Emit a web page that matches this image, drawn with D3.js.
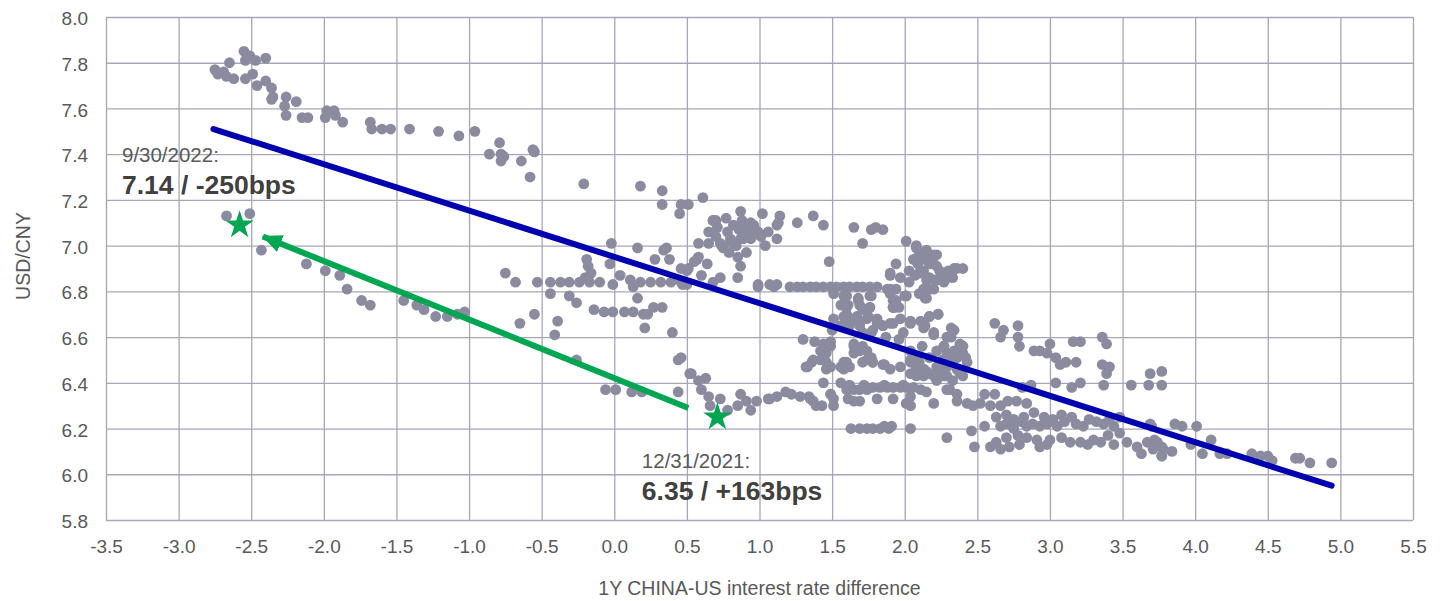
<!DOCTYPE html>
<html>
<head>
<meta charset="utf-8">
<script src="https://cdn.jsdelivr.net/npm/d3@7"></script>
<style>
  body { margin: 0; background: #fff; }
  #plot { width: 1442px; height: 601px; }
  .axis text { font-family: Arial, "Liberation Sans", sans-serif; font-size: 19px; fill: #595959; }
  .grid line { stroke: #a6a6ba; stroke-width: 1.3; }
  .grid .domain { display: none; }
</style>
</head>
<body>
<div id="plot"></div>
<script>
// ---- data ----
// [1Y China-US rate difference, USD/CNY]
var upperStrand = [
  [-2.75,7.77],[-2.73,7.75],[-2.69,7.76],[-2.65,7.80],[-2.67,7.74],[-2.62,7.73],[-2.55,7.85],[-2.54,7.81],
  [-2.51,7.83],[-2.47,7.81],[-2.40,7.82],[-2.54,7.73],[-2.49,7.75],[-2.46,7.70],[-2.40,7.72],[-2.36,7.69],
  [-2.35,7.65],[-2.36,7.64],[-2.26,7.65],[-2.19,7.63],[-2.27,7.61],[-2.26,7.57],[-2.15,7.56],[-2.11,7.56],
  [-1.99,7.56],[-1.98,7.59],[-1.93,7.59],[-1.92,7.57],[-1.87,7.54],[-1.68,7.54],[-1.67,7.51],[-1.60,7.51],
  [-1.54,7.51],[-1.41,7.51],[-1.21,7.50],[-1.07,7.48],[-0.96,7.50],[-0.79,7.45],[-0.86,7.40],[-0.78,7.40],
  [-0.76,7.39],[-0.78,7.37],[-0.64,7.37],[-0.56,7.42],[-0.55,7.41],[-0.58,7.30],[-0.21,7.27],[0.18,7.26],
  [0.33,7.24],[0.33,7.18],[0.45,7.14],[0.46,7.18],[0.51,7.18],[0.61,7.21],[0.68,7.11],[0.65,7.06]
];
var lowerStrand = [
  [-2.67,7.13],[-2.51,7.14],[-2.43,6.98],[-2.12,6.92],[-1.99,6.89],[-1.89,6.87],[-1.84,6.81],[-1.74,6.76],
  [-1.68,6.74],[-1.45,6.76],[-1.36,6.74],[-1.31,6.72],[-1.23,6.69],[-1.15,6.69],[-1.08,6.70],[-1.03,6.71]
];
var middleCluster = [
  [-0.02,7.01],[0.16,6.99],[0.36,6.99],[-0.75,6.88],[-0.68,6.84],[-0.53,6.84],[-0.44,6.84],[-0.37,6.84],
  [-0.31,6.84],[-0.24,6.84],[-0.17,6.84],[-0.10,6.84],[-0.19,6.94],[-0.18,6.91],[-0.16,6.88],[-0.20,6.86],
  [-0.03,6.92],[0.04,6.87],[-0.01,6.83],[0.11,6.85],[0.18,6.84],[0.25,6.84],[0.32,6.84],[0.39,6.84],
  [0.46,6.84],[0.50,6.83],[0.13,6.82],[0.28,6.94],[0.38,6.94],[0.34,6.98],[0.46,6.90],[0.51,6.90],
  [0.57,6.94],[0.64,6.92],[0.60,6.87],[0.68,6.84],[0.73,6.86],[0.85,6.86],[0.99,6.83],[1.07,6.83],
  [1.12,6.83],[-0.44,6.79],[-0.31,6.78],[-0.26,6.75],[0.16,6.77],[-0.14,6.72],[-0.07,6.71],[-0.01,6.71],
  [0.07,6.71],[0.13,6.71],[0.20,6.70],[0.27,6.73],[0.33,6.73],[0.23,6.70],[0.21,6.64],[0.40,6.62],
  [-0.65,6.66],[-0.55,6.70],[-0.39,6.67],[-0.41,6.61]
];
var upperCluster = [
  [0.68,7.11],[0.71,7.08],[0.77,7.12],[0.82,7.09],[0.87,7.15],[0.88,7.11],[0.91,7.07],[0.96,7.09],
  [1.02,7.14],[1.06,7.06],[1.12,7.09],[0.80,7.03],[0.74,7.00],[0.84,7.00],[0.89,7.03],[0.94,7.03],
  [1.04,7.00],[0.58,7.01],[0.65,7.01],[0.99,7.06],[0.70,7.11],[0.94,7.10],[0.97,7.07],[1.14,7.13],
  [1.13,7.10],[1.12,7.03],[1.26,7.10],[1.37,7.13],[1.44,7.09],[1.65,7.08],[1.77,7.07],[1.80,7.08],
  [1.85,7.07],[1.71,7.01],[2.01,7.02],[0.73,7.01],[0.80,7.02],[0.87,7.03],[0.75,6.99],[0.83,7.00],
  [0.91,6.97],[0.85,6.95],[0.87,6.91],[0.55,6.93],[0.58,6.95],[0.50,6.89],[0.47,6.83],[1.48,6.93],
  [0.78,7.06],[0.86,7.07],[0.93,7.05],[1.01,7.04],[0.79,6.97],[0.70,7.04]
];
var flatRow = [
  [0.99,6.82],[1.10,6.82],[1.21,6.82],[1.26,6.82],[1.30,6.82],[1.35,6.82],[1.39,6.82],[1.44,6.82],
  [1.49,6.82],[1.53,6.82],[1.58,6.82],[1.62,6.82],[1.67,6.82],[1.71,6.82],[1.76,6.82],[1.81,6.82]
];
var centreCluster = [
  [1.51,6.79],[1.60,6.78],[1.68,6.77],[1.77,6.78],[1.56,6.74],[1.60,6.73],[1.69,6.74],[1.76,6.73],
  [1.75,6.69],[1.51,6.68],[1.58,6.69],[1.65,6.68],[1.56,6.65],[1.62,6.65],[1.69,6.66],[1.50,6.63],
  [1.81,6.66],[1.77,6.62],[1.85,6.65],[1.92,6.66],[1.90,6.81],[1.92,6.76],[2.01,6.78],[1.92,6.73],
  [1.99,6.62],[2.04,6.66],[2.17,6.69],[2.23,6.70],[2.14,6.65],[2.20,6.61],[2.32,6.64],[2.32,6.60],
  [1.71,6.62],
  [1.58,6.78],[1.61,6.74],[1.68,6.76],[1.76,6.78],[1.76,6.73],[1.71,6.72],[1.90,6.79],[1.94,6.76],
  [1.92,6.73],[2.01,6.78],[1.60,6.70],[1.67,6.69],[1.74,6.68],[1.81,6.68],[1.62,6.66],[1.69,6.65],
  [1.78,6.63],[1.85,6.65],[1.90,6.66],[1.97,6.68],[2.04,6.67],[2.11,6.67],[2.17,6.69],[2.23,6.70],
  [2.13,6.64],[2.20,6.62],[2.34,6.63],[2.29,6.60],
  [2.08,7.00],[2.15,6.98],[2.22,6.96],[2.10,6.96],[2.14,6.94],[2.20,6.92],[2.09,6.92],[2.03,6.89],
  [2.07,6.87],[2.13,6.89],[2.17,6.86],[2.24,6.89],[2.30,6.89],[2.34,6.90],[2.40,6.90],[2.29,6.86],
  [2.23,6.85],[2.15,6.82],[2.20,6.81],[2.15,6.77],[2.10,6.79],[1.94,6.92],[1.90,6.87],[1.97,6.86],
  [2.03,6.84],[1.96,6.73],[2.00,6.78],[2.14,6.97],[2.20,6.96],[2.06,6.94],[2.17,6.92],[2.22,6.91],
  [2.29,6.87],[2.36,6.90],[2.10,6.88],[1.90,6.88],[2.15,6.85],[2.21,6.85],[2.27,6.84],[2.13,6.81],
  [2.17,6.81],[2.14,6.77],[1.88,6.81],[1.94,6.81],[1.93,6.73],[2.08,6.99],[2.13,6.97],[2.33,6.86]
];
var lowerCluster = [
  [1.30,6.59],[1.38,6.58],[1.44,6.57],[1.49,6.56],[1.46,6.53],[1.42,6.50],[1.46,6.49],[1.36,6.49],
  [1.32,6.47],[1.46,6.46],[1.56,6.47],[1.60,6.49],[1.58,6.46],[1.65,6.57],[1.71,6.56],[1.65,6.53],
  [1.74,6.54],[1.77,6.51],[1.71,6.49],[1.78,6.49],[1.86,6.48],[1.87,6.60],[1.96,6.59],[2.04,6.54],
  [2.08,6.51],[2.04,6.49],[2.10,6.49],[2.08,6.46],[2.15,6.45],[2.20,6.43],[2.24,6.46],[2.29,6.47],
  [2.33,6.50],[2.38,6.56],[2.40,6.53],[2.43,6.49],[2.36,6.46],[2.27,6.43],[2.22,6.41],[2.33,6.41],
  [2.31,6.37],[2.36,6.35],[2.12,6.56],[2.27,6.56],[2.29,6.53],[2.34,6.54],[2.38,6.57],[2.40,6.56],
  [2.38,6.53],[2.42,6.51],[2.31,6.49],[2.26,6.50],[2.13,6.46],[2.04,6.44],[2.08,6.43],[1.97,6.47],
  [1.90,6.46],[2.38,6.44],
  [1.49,6.58],[1.42,6.54],[1.44,6.50],[1.37,6.50],[1.33,6.47],[1.49,6.47],[1.58,6.49],[1.65,6.56],
  [1.69,6.54],[1.74,6.50],[1.78,6.49],[1.85,6.48],[1.62,6.47],[2.04,6.50],[2.08,6.48],[2.13,6.46],
  [2.17,6.44],[2.22,6.47],[2.27,6.49],[2.31,6.50],[2.36,6.51],[2.40,6.56],[2.27,6.56],[2.22,6.54],
  [2.17,6.51],[2.36,6.46],[2.40,6.43],[2.29,6.43],[2.13,6.43],[2.06,6.44]
];
var bottomRows = [
  [0.44,6.50],[0.52,6.44],[0.58,6.41],[0.63,6.42],[0.60,6.37],[0.65,6.34],[0.66,6.30],[0.73,6.33],
  [0.78,6.28],[0.44,6.36],[-0.06,6.37],[0.01,6.37],[0.12,6.36],[0.19,6.36],[-0.26,6.50],[0.87,6.35],
  [0.94,6.28],[0.91,6.32],[0.98,6.32],[1.07,6.33],[1.12,6.34],[0.85,6.30],[0.46,6.51],[0.53,6.44],
  [1.06,6.33],[1.18,6.36],[1.22,6.35],[1.28,6.34],[1.34,6.34],[1.37,6.32],[1.43,6.30],[1.39,6.30],
  [1.44,6.40],[1.49,6.35],[1.56,6.40],[1.60,6.37],[1.65,6.37],[1.69,6.37],[1.74,6.37],[1.78,6.38],
  [1.83,6.38],[1.88,6.38],[1.92,6.38],[1.97,6.38],[2.01,6.38],[2.06,6.38],[2.11,6.37],[2.15,6.36],
  [2.04,6.34],[1.92,6.33],[1.81,6.33],[1.65,6.32],[1.51,6.33],[2.04,6.30],[2.20,6.31],[2.29,6.37],
  [2.43,6.31],[2.47,6.30],
  [1.35,6.33],[1.49,6.35],[1.51,6.30],[1.61,6.33],[1.69,6.32],[2.01,6.31],[2.36,6.32],[1.62,6.39],
  [1.72,6.39],[1.86,6.39],[1.99,6.39],
  [1.63,6.20],[1.69,6.20],[1.74,6.20],[1.78,6.20],[1.83,6.20],[1.89,6.20],[2.04,6.20],[2.46,6.19],
  [2.29,6.16],[1.91,6.21],[1.86,6.21],[2.48,6.12],[2.55,6.21]
];
var rightCluster = [
  [2.62,6.66],[2.68,6.63],[2.66,6.60],[2.78,6.65],[2.78,6.60],[2.79,6.56],[2.89,6.54],[2.93,6.54],
  [3.00,6.57],[2.98,6.53],[3.04,6.51],[3.11,6.49],[3.07,6.48],[3.18,6.49],[3.16,6.58],[3.21,6.58],
  [3.36,6.60],[3.39,6.57],[3.36,6.48],[3.41,6.47],[3.39,6.44],[3.69,6.44],[3.77,6.45],[3.56,6.39],
  [3.68,6.39],[3.77,6.39],[3.37,6.39],[3.21,6.40],[3.15,6.38],[3.04,6.40],[2.87,6.39],[2.81,6.38],
  [2.55,6.35],[2.62,6.35],[2.52,6.31],[2.59,6.30],[2.66,6.30],[2.71,6.32],[2.77,6.32],[2.84,6.31],
  [2.63,6.25],[2.70,6.26],[2.75,6.24],[2.82,6.25],[2.89,6.27],[2.96,6.25],[3.02,6.24],[3.08,6.26],
  [3.15,6.25],[3.23,6.21],[3.32,6.23],[3.41,6.24],[3.48,6.25],[3.44,6.21],[3.48,6.18],[3.69,6.22],
  [3.86,6.22],[2.66,6.21],[2.75,6.20],[2.84,6.21],[2.93,6.21],[2.84,6.16],[2.91,6.15],[2.63,6.14],
  [2.59,6.12],[2.66,6.11],[2.72,6.12],[2.79,6.13],[2.93,6.12],[3.14,6.14],[3.21,6.14],[3.30,6.15],
  [3.35,6.14],[3.44,6.13],[3.53,6.14],[3.60,6.12],[3.67,6.14],[3.74,6.14],[3.78,6.11],[3.63,6.09],
  [3.77,6.08],[3.84,6.10],
  [2.70,6.22],[2.80,6.23],[2.88,6.22],[2.98,6.22],[3.05,6.21],[3.10,6.23],[3.18,6.22],[3.27,6.24],
  [3.37,6.22],[2.70,6.16],[2.78,6.17],[3.00,6.15],[3.08,6.16],[3.26,6.13],[2.98,6.13],[3.40,6.17]
];
var tailPoints = [
  [3.70,6.21],[3.72,6.15],[3.71,6.11],[3.77,6.12],[3.77,6.08],[3.97,6.13],[3.91,6.21],[4.01,6.21],
  [4.05,6.09],[4.11,6.15],[4.17,6.09],[4.22,6.09],[4.39,6.09],[4.45,6.08],[4.50,6.08],[4.53,6.06],
  [4.69,6.07],[4.72,6.07],[4.79,6.05],[4.94,6.05]
];

var trendLine = [[-2.76, 7.51], [4.94, 5.95]];
var moveArrow = [[0.51, 6.29], [-2.42, 7.04]];   // from 12/31/2021 towards 9/30/2022
var starPoints = [[-2.58, 7.09], [0.71, 6.25]];
var notes = [
  { date: "9/30/2022:", value: "7.14 / -250bps", x: -3.39, y: 7.365 },
  { date: "12/31/2021:", value: "6.35 / +163bps", x: 0.19, y: 6.028 }
];
var xTicks = d3.range(-3.5, 5.51, 0.5);
var yTicks = d3.range(5.8, 8.01, 0.2);

var allPoints = [].concat(upperStrand, lowerStrand, middleCluster, upperCluster, flatRow,
  centreCluster, lowerCluster, bottomRows, rightCluster, tailPoints);

// ---- layout ----
var w = 1442, h = 601;
var margin = { left: 106, top: 17, right: 29, bottom: 81 };
var pw = w - margin.left - margin.right;
var ph = h - margin.top - margin.bottom;
var font = "Arial, 'Liberation Sans', sans-serif";

var svg = d3.select("#plot").append("svg")
    .attr("width", w)
    .attr("height", h);

var g = svg.append("g")
    .attr("transform", "translate(" + margin.left + "," + margin.top + ")");

var xScale = d3.scaleLinear().domain([-3.5, 5.5]).range([0, pw]);
var yScale = d3.scaleLinear().domain([5.8, 8.0]).range([ph, 0]);

// plain hyphen for negatives, like the original
var fmt = function(d) { return d3.format(".1f")(d).replace("\u2212", "-"); };

// grid + axes
var xAxis = d3.axisBottom(xScale)
    .tickValues(xTicks)
    .tickSize(-ph)
    .tickPadding(20)
    .tickFormat(fmt);
g.append("g")
    .attr("class", "axis grid")
    .attr("transform", "translate(0," + ph + ")")
    .call(xAxis);

var yAxis = d3.axisLeft(yScale)
    .tickValues(yTicks)
    .tickSize(-pw)
    .tickPadding(18)
    .tickFormat(fmt);
g.append("g")
    .attr("class", "axis grid")
    .call(yAxis)
    .selectAll("text").attr("dy", "0.4em");

// axis titles
svg.append("text")
    .attr("x", margin.left + pw / 2)
    .attr("y", 595)
    .attr("text-anchor", "middle")
    .style("font-family", font)
    .style("font-size", "19.5px")
    .style("fill", "#595959")
    .text("1Y CHINA-US interest rate difference");

svg.append("text")
    .attr("transform", "translate(30,256) rotate(-90)")
    .attr("text-anchor", "middle")
    .style("font-family", font)
    .style("font-size", "19.5px")
    .style("fill", "#595959")
    .text("USD/CNY");

// scatter
g.selectAll(".dot")
    .data(allPoints)
    .enter().append("circle")
    .attr("class", "dot")
    .attr("cx", function(d) { return xScale(d[0]); })
    .attr("cy", function(d) { return yScale(d[1]); })
    .attr("r", 5.4)
    .attr("fill", "#8b8ba0");

// regression line
var line = d3.line()
    .x(function(d) { return xScale(d[0]); })
    .y(function(d) { return yScale(d[1]); });

g.append("path")
    .datum(trendLine)
    .attr("d", line)
    .attr("stroke", "#0000b0")
    .attr("stroke-width", 6)
    .attr("stroke-linecap", "round")
    .attr("fill", "none");

// arrow
var defs = svg.append("defs");
defs.append("marker")
    .attr("id", "arrowHead")
    .attr("markerUnits", "userSpaceOnUse")
    .attr("viewBox", "0 0 20 18")
    .attr("refX", 19)
    .attr("refY", 9)
    .attr("markerWidth", 20)
    .attr("markerHeight", 18)
    .attr("orient", "auto")
  .append("path")
    .attr("d", "M0,0L20,9L0,18Z")
    .attr("fill", "#00a651");

g.append("path")
    .datum(moveArrow)
    .attr("d", line)
    .attr("stroke", "#00a651")
    .attr("stroke-width", 6)
    .attr("fill", "none")
    .attr("marker-end", "url(#arrowHead)");

// stars
g.selectAll(".star")
    .data(starPoints)
    .enter().append("path")
    .attr("class", "star")
    .attr("d", d3.symbol().type(d3.symbolStar).size(250))
    .attr("fill", "#00a651")
    .attr("transform", function(d) { return "translate(" + xScale(d[0]) + "," + yScale(d[1]) + ")"; });

// annotations
var note = g.selectAll(".note")
    .data(notes)
    .enter().append("g")
    .attr("class", "note")
    .attr("transform", function(d) { return "translate(" + xScale(d.x) + "," + yScale(d.y) + ")"; });

note.append("text")
    .style("font-family", font)
    .style("font-size", "20.5px")
    .style("fill", "#595959")
    .text(function(d) { return d.date; });

note.append("text")
    .attr("y", 32)
    .style("font-family", font)
    .style("font-size", "26.5px")
    .style("font-weight", "bold")
    .style("fill", "#404040")
    .text(function(d) { return d.value; });
</script>
</body>
</html>
